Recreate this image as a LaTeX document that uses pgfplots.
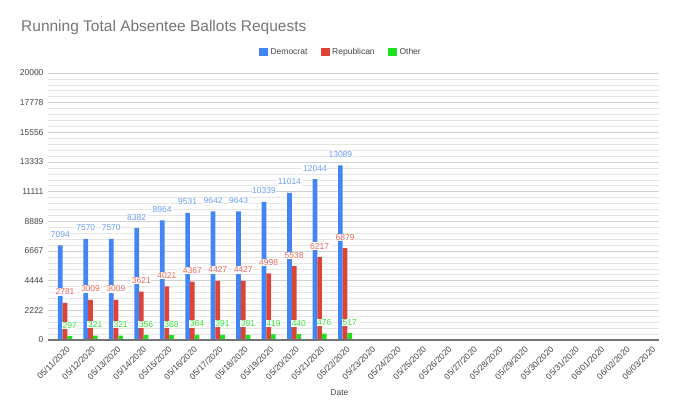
\documentclass[border=0pt]{standalone}
\usepackage{pgfplots}
\pgfplotsset{compat=1.18}
\usepackage{fontspec}
\setmainfont{Liberation Sans}
\definecolor{dem}{HTML}{4285F4}
\definecolor{rep}{HTML}{DB4437}
\definecolor{oth}{HTML}{1EE01E}
\definecolor{demL}{HTML}{6A9EF2}
\definecolor{repL}{HTML}{E5675E}
\definecolor{othL}{HTML}{33E033}
\definecolor{titlegray}{HTML}{757575}
\definecolor{ticktext}{HTML}{444444}
\begin{document}
\begin{tikzpicture}[x=1pt,y=1pt]
\useasboundingbox (0,0) rectangle (680,418);
\node[anchor=west, font=\fontsize{15.5}{18}\selectfont, text=titlegray, inner sep=0] at (21,391) {Running Total Absentee Ballots Requests};
\begin{axis}[
  at={(48pt,78pt)}, anchor=south west,
  scale only axis, width=611pt, height=267pt,
  ybar=0pt, bar width=4.7pt,
  xmin=-0.668, xmax=23.33,
  ymin=0, ymax=20000,
  scaled y ticks=false,
  ytick={0,2222.22,4444.44,6666.67,8888.89,11111.11,13333.33,15555.56,17777.78,20000},
  yticklabels={0,2222,4444,6667,8889,11111,13333,15556,17778,20000},
  minor ytick={444.44,888.89,1333.33,1777.78,2666.67,3111.11,3555.56,4000,4888.89,5333.33,5777.78,6222.22,7111.11,7555.56,8000,8444.44,9333.33,9777.78,10222.22,10666.67,11555.56,12000,12444.44,12888.89,13777.78,14222.22,14666.67,15111.11,16000,16444.44,16888.89,17333.33,18222.22,18666.67,19111.11,19555.56},
  ymajorgrids, yminorgrids,
  major grid style={draw=black!18, line width=0.8pt},
  minor grid style={draw=black!10, line width=0.6pt},
  axis line style={draw=none},
  major tick length=0pt, minor tick length=0pt,
  xtick={0,...,23},
  xticklabels={05/11/2020,05/12/2020,05/13/2020,05/14/2020,05/15/2020,05/16/2020,05/17/2020,05/18/2020,05/19/2020,05/20/2020,05/21/2020,05/22/2020,05/23/2020,05/24/2020,05/25/2020,05/26/2020,05/27/2020,05/28/2020,05/29/2020,05/30/2020,05/31/2020,06/01/2020,06/02/2020,06/03/2020},
  xticklabel style={xshift=1pt, yshift=-4pt, rotate=45, anchor=north east, font=\fontsize{8.5}{10}\selectfont, text=ticktext, inner sep=1pt},
  yticklabel style={font=\fontsize{8.5}{10}\selectfont, text=ticktext, xshift=-1pt},
  /pgf/number format/assume math mode=true,
  /pgf/number format/1000 sep={},
  /pgf/number format/fixed,
  /pgf/number format/precision=0,
  xlabel={Date},
  xlabel style={font=\fontsize{8.5}{10}\selectfont, text=ticktext, at={(axis description cs:0.477,0)}, anchor=center, yshift=-53pt},
  legend columns=3,
  legend style={draw=none, fill=none, at={(axis description cs:0.48,1.079)}, anchor=center,
    font=\fontsize{8.5}{10}\selectfont, text=ticktext,
    /tikz/every even column/.append style={column sep=11pt},
    /tikz/every odd column/.append style={column sep=0pt},
    nodes={inner sep=2.5pt}},
  legend image code/.code={\fill[#1] (0pt,-4.4pt) rectangle (8.8pt,4.4pt);},
  nodes near coords,
  nodes near coords style={font=\fontsize{8.5}{10}\selectfont, anchor=base, yshift=8pt, inner sep=0.6pt, fill=white},
  clip=false,
]
\addplot[fill=dem, draw=none, nodes near coords style={text=demL}] coordinates {
(0,7094) (1,7570) (2,7570) (3,8382) (4,8964) (5,9531) (6,9642) (7,9643) (8,10339) (9,11014) (10,12044) (11,13089)};
\addplot[fill=rep, draw=none, nodes near coords style={text=repL}] coordinates {
(0,2781) (1,3009) (2,3009) (3,3621) (4,4021) (5,4367) (6,4427) (7,4427) (8,4998) (9,5538) (10,6217) (11,6879)};
\addplot[fill=oth, draw=none, nodes near coords style={text=othL}] coordinates {
(0,297) (1,321) (2,321) (3,356) (4,368) (5,384) (6,391) (7,391) (8,419) (9,440) (10,476) (11,517)};
\legend{Democrat,Republican,Other}
\draw[black!55, line width=1.2pt] (axis cs:-0.668,0) -- (axis cs:23.33,0);
\end{axis}
\end{tikzpicture}
\end{document}
